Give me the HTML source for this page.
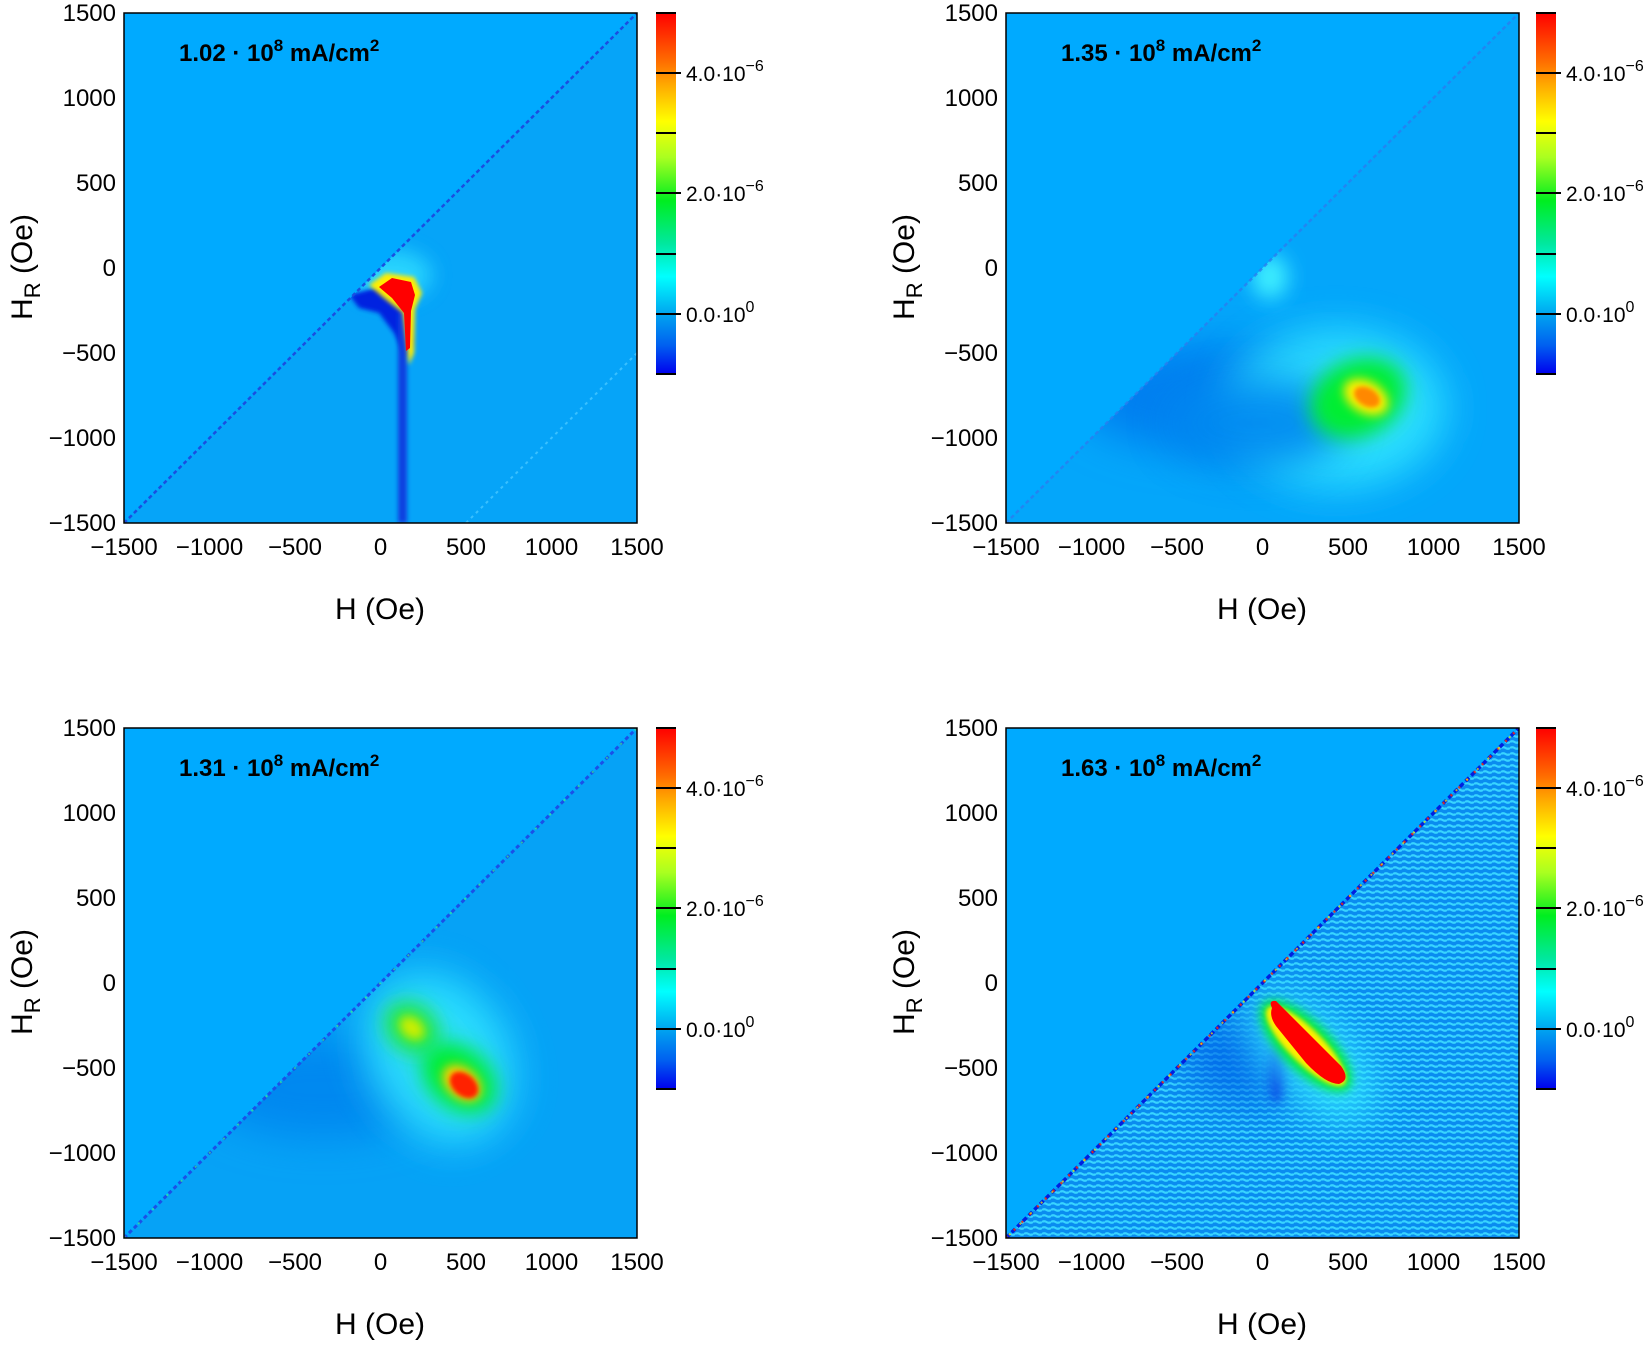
<!DOCTYPE html>
<html><head><meta charset="utf-8"><style>
html,body{margin:0;padding:0;background:#fff;}
svg{display:block;}
text{font-family:"Liberation Sans",Arial,sans-serif;fill:#000;}
.tk{font-size:24px;}
.al{font-size:30px;}
.cb{font-size:21px;}
.tt{font-size:24px;font-weight:bold;}
</style></head><body>
<svg width="1650" height="1345" viewBox="0 0 1650 1345" xmlns="http://www.w3.org/2000/svg">
<defs>
<linearGradient id="cg" x1="0" y1="0" x2="0" y2="1">
<stop offset="0" stop-color="#ff0000"/><stop offset="0.13" stop-color="#ff6a00"/>
<stop offset="0.2" stop-color="#ffaa00"/><stop offset="0.3" stop-color="#ffff00"/>
<stop offset="0.4" stop-color="#aaff20"/><stop offset="0.52" stop-color="#00ee20"/>
<stop offset="0.64" stop-color="#00e8a0"/><stop offset="0.73" stop-color="#00ffff"/>
<stop offset="0.83" stop-color="#00a8f0"/><stop offset="0.92" stop-color="#0060f0"/>
<stop offset="1" stop-color="#0000ee"/></linearGradient>
<clipPath id="pc"><rect x="0" y="0" width="513" height="510"/></clipPath>
<clipPath id="lt"><polygon points="0,510 513,0 513,510"/></clipPath>
<filter id="b2" x="-50%" y="-50%" width="200%" height="200%"><feGaussianBlur stdDeviation="2"/></filter>
<filter id="b5" x="-50%" y="-50%" width="200%" height="200%"><feGaussianBlur stdDeviation="5"/></filter>
<filter id="b10" x="-50%" y="-50%" width="200%" height="200%"><feGaussianBlur stdDeviation="10"/></filter>
<filter id="b20" x="-50%" y="-50%" width="200%" height="200%"><feGaussianBlur stdDeviation="20"/></filter>
<pattern id="st" width="9" height="6" patternUnits="userSpaceOnUse">
<rect width="9" height="6" fill="#0a8cf0"/><path d="M0,2 Q2.25,0.5 4.5,2 T9,2" stroke="#38d4ff" stroke-width="2.2" fill="none"/></pattern>
</defs>

<!-- ============ PANEL TL ============ -->
<g transform="translate(124,13)">
<g clip-path="url(#pc)">
<rect width="513" height="510" fill="#00aaff"/>
<polygon points="0,510 513,0 513,510" fill="#06a4f8"/>
<line x1="342" y1="510" x2="513" y2="340" stroke="#3ac0ff" stroke-width="2" stroke-dasharray="3 4"/>
<g clip-path="url(#lt)">
<ellipse cx="268" cy="262" rx="40" ry="25" fill="#30e0ff" opacity="0.8" filter="url(#b10)"/>
<path d="M225,282 L262,272 L284,292 L288,330 L282,345 L270,320 L255,300 L235,295 Z" fill="#0020e0" filter="url(#b2)"/>
<rect x="274" y="300" width="9" height="210" fill="#1040e0" filter="url(#b2)"/>
<path d="M245,272 L262,260 L290,264 L298,280 L291,296 L290,340 L285,352 L279,300 L260,285 Z" fill="#ffee00" filter="url(#b2)"/>
<path d="M255,274 L268,265 L287,269 L291,282 L287,298 L286,335 L282,338 L280,300 L268,285 Z" fill="#ff0000"/>
</g>
<line x1="0" y1="510" x2="513" y2="0" stroke="#1a4ee0" stroke-width="2.5" stroke-dasharray="4 3"/>
</g>
<rect width="513" height="510" fill="none" stroke="#000" stroke-width="1.5"/>
<text class="tt" x="55" y="48">1.02 · 10<tspan dy="-10" font-size="17">8</tspan><tspan dy="10"> mA/cm</tspan><tspan dy="-10" font-size="17">2</tspan></text>
</g>

<!-- ============ PANEL TR ============ -->
<g transform="translate(1006,13)">
<g clip-path="url(#pc)">
<rect width="513" height="510" fill="#00aaff"/>
<g clip-path="url(#lt)">
<rect width="513" height="510" fill="#04a6fa"/>
<ellipse cx="220" cy="385" rx="150" ry="55" fill="#0080f0" filter="url(#b20)"/>
<ellipse cx="330" cy="395" rx="110" ry="80" fill="#30e8ff" opacity="0.85" filter="url(#b20)"/>
<ellipse cx="264" cy="264" rx="18" ry="22" fill="#40f0ff" filter="url(#b10)"/>
<ellipse cx="250" cy="410" rx="90" ry="45" fill="#0088f0" opacity="0.9" filter="url(#b20)"/>
<ellipse cx="352" cy="385" rx="50" ry="38" transform="rotate(-25 352 385)" fill="#00ee30" filter="url(#b10)"/>
<ellipse cx="360" cy="384" rx="24" ry="16" transform="rotate(30 360 384)" fill="#ffee00" filter="url(#b5)"/>
<ellipse cx="361" cy="384" rx="14" ry="9" transform="rotate(30 361 384)" fill="#ff8800" filter="url(#b2)"/>
</g>
<line x1="0" y1="510" x2="513" y2="0" stroke="#2a7ef0" stroke-width="2.5" stroke-dasharray="4 3" opacity="0.8"/>
</g>
<rect width="513" height="510" fill="none" stroke="#000" stroke-width="1.5"/>
<text class="tt" x="55" y="48">1.35 · 10<tspan dy="-10" font-size="17">8</tspan><tspan dy="10"> mA/cm</tspan><tspan dy="-10" font-size="17">2</tspan></text>
</g>

<!-- ============ PANEL BL ============ -->
<g transform="translate(124,728)">
<g clip-path="url(#pc)">
<rect width="513" height="510" fill="#00aaff"/>
<g clip-path="url(#lt)">
<rect width="513" height="510" fill="#06a2f6"/>
<ellipse cx="200" cy="360" rx="120" ry="50" fill="#0088f0" filter="url(#b20)"/>
<ellipse cx="315" cy="330" rx="70" ry="90" transform="rotate(-30 315 330)" fill="#30e8ff" opacity="0.85" filter="url(#b20)"/>
<ellipse cx="288" cy="300" rx="30" ry="24" transform="rotate(40 288 300)" fill="#20e840" filter="url(#b10)"/>
<ellipse cx="335" cy="350" rx="42" ry="30" transform="rotate(40 335 350)" fill="#00ee30" filter="url(#b10)"/>
<ellipse cx="288" cy="300" rx="14" ry="10" transform="rotate(40 288 300)" fill="#ccee00" filter="url(#b5)"/>
<ellipse cx="338" cy="355" rx="22" ry="15" transform="rotate(40 338 355)" fill="#ffcc00" filter="url(#b5)"/>
<ellipse cx="340" cy="357" rx="16" ry="11" transform="rotate(40 340 357)" fill="#ff2200" filter="url(#b2)"/>
</g>
<line x1="0" y1="510" x2="513" y2="0" stroke="#1a50e8" stroke-width="3" stroke-dasharray="4 3"/>
<line x1="0" y1="510" x2="513" y2="0" stroke="#40ff80" stroke-width="2" stroke-dasharray="2 18" opacity="0.6"/>
</g>
<rect width="513" height="510" fill="none" stroke="#000" stroke-width="1.5"/>
<text class="tt" x="55" y="48">1.31 · 10<tspan dy="-10" font-size="17">8</tspan><tspan dy="10"> mA/cm</tspan><tspan dy="-10" font-size="17">2</tspan></text>
</g>

<!-- ============ PANEL BR ============ -->
<g transform="translate(1006,728)">
<g clip-path="url(#pc)">
<rect width="513" height="510" fill="#00aaff"/>
<g clip-path="url(#lt)">
<rect width="513" height="510" fill="url(#st)"/>
<ellipse cx="250" cy="330" rx="70" ry="45" fill="#0060e8" opacity="0.7" filter="url(#b20)"/>
<ellipse cx="271" cy="345" rx="8" ry="30" fill="#0020e0" filter="url(#b5)"/>
<ellipse cx="305" cy="330" rx="80" ry="40" transform="rotate(45 305 330)" fill="#30e8ff" opacity="0.85" filter="url(#b20)"/>
<ellipse cx="300" cy="318" rx="60" ry="24" transform="rotate(45 300 318)" fill="#00ee30" filter="url(#b5)"/>
<ellipse cx="300" cy="318" rx="54" ry="17" transform="rotate(45 300 318)" fill="#ffee00" filter="url(#b2)"/>
<path d="M266,280 Q262,272 270,273 L335,338 Q345,352 333,356 Q320,356 300,335 L270,298 Q263,288 266,280 Z" fill="#ff0000"/>
</g>
<line x1="0" y1="510" x2="513" y2="0" stroke="#0020e0" stroke-width="3.5" stroke-dasharray="5 3"/>
<line x1="0" y1="510" x2="513" y2="0" stroke="#ff3000" stroke-width="2.5" stroke-dasharray="2 9" opacity="0.8"/>
<line x1="3" y1="507" x2="513" y2="0" stroke="#ffee00" stroke-width="2" stroke-dasharray="2 13" opacity="0.7"/>
</g>
<rect width="513" height="510" fill="none" stroke="#000" stroke-width="1.5"/>
<text class="tt" x="55" y="48">1.63 · 10<tspan dy="-10" font-size="17">8</tspan><tspan dy="10"> mA/cm</tspan><tspan dy="-10" font-size="17">2</tspan></text>
</g>

<!-- ============ AXES LABELS & COLORBARS ============ -->
<!-- TL -->
<g transform="translate(124,13)">
<g class="tk" text-anchor="end">
<text x="-8" y="8">1500</text><text x="-8" y="93">1000</text><text x="-8" y="178">500</text><text x="-8" y="263">0</text><text x="-8" y="348">−500</text><text x="-8" y="433">−1000</text><text x="-8" y="518">−1500</text></g>
<g class="tk" text-anchor="middle">
<text x="0" y="542">−1500</text><text x="85.5" y="542">−1000</text><text x="171" y="542">−500</text><text x="256.5" y="542">0</text><text x="342" y="542">500</text><text x="427.5" y="542">1000</text><text x="513" y="542">1500</text></g>
<text class="al" x="256" y="606" text-anchor="middle">H (Oe)</text>
<text class="al" transform="translate(-92,254) rotate(-90)" text-anchor="middle">H<tspan dy="8" font-size="22">R</tspan><tspan dy="-8"> (Oe)</tspan></text>
<g transform="translate(532,0)">
<rect width="20" height="361" fill="url(#cg)"/>
<g stroke="#000" stroke-width="2"><line x1="0" y1="0" x2="20" y2="0"/><line x1="0" y1="60" x2="25" y2="60"/><line x1="0" y1="120" x2="20" y2="120"/><line x1="0" y1="180" x2="25" y2="180"/><line x1="0" y1="241" x2="20" y2="241"/><line x1="0" y1="301" x2="25" y2="301"/><line x1="0" y1="361" x2="20" y2="361"/></g>
<g class="cb"><text x="30" y="68">4.0·10<tspan dy="-10" font-size="16">−6</tspan></text><text x="30" y="188">2.0·10<tspan dy="-10" font-size="16">−6</tspan></text><text x="30" y="309">0.0·10<tspan dy="-10" font-size="16">0</tspan></text></g>
</g>
</g>
<!-- TR -->
<g transform="translate(1006,13)">
<g class="tk" text-anchor="end">
<text x="-8" y="8">1500</text><text x="-8" y="93">1000</text><text x="-8" y="178">500</text><text x="-8" y="263">0</text><text x="-8" y="348">−500</text><text x="-8" y="433">−1000</text><text x="-8" y="518">−1500</text></g>
<g class="tk" text-anchor="middle">
<text x="0" y="542">−1500</text><text x="85.5" y="542">−1000</text><text x="171" y="542">−500</text><text x="256.5" y="542">0</text><text x="342" y="542">500</text><text x="427.5" y="542">1000</text><text x="513" y="542">1500</text></g>
<text class="al" x="256" y="606" text-anchor="middle">H (Oe)</text>
<text class="al" transform="translate(-92,254) rotate(-90)" text-anchor="middle">H<tspan dy="8" font-size="22">R</tspan><tspan dy="-8"> (Oe)</tspan></text>
<g transform="translate(530,0)">
<rect width="20" height="361" fill="url(#cg)"/>
<g stroke="#000" stroke-width="2"><line x1="0" y1="0" x2="20" y2="0"/><line x1="0" y1="60" x2="25" y2="60"/><line x1="0" y1="120" x2="20" y2="120"/><line x1="0" y1="180" x2="25" y2="180"/><line x1="0" y1="241" x2="20" y2="241"/><line x1="0" y1="301" x2="25" y2="301"/><line x1="0" y1="361" x2="20" y2="361"/></g>
<g class="cb"><text x="30" y="68">4.0·10<tspan dy="-10" font-size="16">−6</tspan></text><text x="30" y="188">2.0·10<tspan dy="-10" font-size="16">−6</tspan></text><text x="30" y="309">0.0·10<tspan dy="-10" font-size="16">0</tspan></text></g>
</g>
</g>
<!-- BL -->
<g transform="translate(124,728)">
<g class="tk" text-anchor="end">
<text x="-8" y="8">1500</text><text x="-8" y="93">1000</text><text x="-8" y="178">500</text><text x="-8" y="263">0</text><text x="-8" y="348">−500</text><text x="-8" y="433">−1000</text><text x="-8" y="518">−1500</text></g>
<g class="tk" text-anchor="middle">
<text x="0" y="542">−1500</text><text x="85.5" y="542">−1000</text><text x="171" y="542">−500</text><text x="256.5" y="542">0</text><text x="342" y="542">500</text><text x="427.5" y="542">1000</text><text x="513" y="542">1500</text></g>
<text class="al" x="256" y="606" text-anchor="middle">H (Oe)</text>
<text class="al" transform="translate(-92,254) rotate(-90)" text-anchor="middle">H<tspan dy="8" font-size="22">R</tspan><tspan dy="-8"> (Oe)</tspan></text>
<g transform="translate(532,0)">
<rect width="20" height="361" fill="url(#cg)"/>
<g stroke="#000" stroke-width="2"><line x1="0" y1="0" x2="20" y2="0"/><line x1="0" y1="60" x2="25" y2="60"/><line x1="0" y1="120" x2="20" y2="120"/><line x1="0" y1="180" x2="25" y2="180"/><line x1="0" y1="241" x2="20" y2="241"/><line x1="0" y1="301" x2="25" y2="301"/><line x1="0" y1="361" x2="20" y2="361"/></g>
<g class="cb"><text x="30" y="68">4.0·10<tspan dy="-10" font-size="16">−6</tspan></text><text x="30" y="188">2.0·10<tspan dy="-10" font-size="16">−6</tspan></text><text x="30" y="309">0.0·10<tspan dy="-10" font-size="16">0</tspan></text></g>
</g>
</g>
<!-- BR -->
<g transform="translate(1006,728)">
<g class="tk" text-anchor="end">
<text x="-8" y="8">1500</text><text x="-8" y="93">1000</text><text x="-8" y="178">500</text><text x="-8" y="263">0</text><text x="-8" y="348">−500</text><text x="-8" y="433">−1000</text><text x="-8" y="518">−1500</text></g>
<g class="tk" text-anchor="middle">
<text x="0" y="542">−1500</text><text x="85.5" y="542">−1000</text><text x="171" y="542">−500</text><text x="256.5" y="542">0</text><text x="342" y="542">500</text><text x="427.5" y="542">1000</text><text x="513" y="542">1500</text></g>
<text class="al" x="256" y="606" text-anchor="middle">H (Oe)</text>
<text class="al" transform="translate(-92,254) rotate(-90)" text-anchor="middle">H<tspan dy="8" font-size="22">R</tspan><tspan dy="-8"> (Oe)</tspan></text>
<g transform="translate(530,0)">
<rect width="20" height="361" fill="url(#cg)"/>
<g stroke="#000" stroke-width="2"><line x1="0" y1="0" x2="20" y2="0"/><line x1="0" y1="60" x2="25" y2="60"/><line x1="0" y1="120" x2="20" y2="120"/><line x1="0" y1="180" x2="25" y2="180"/><line x1="0" y1="241" x2="20" y2="241"/><line x1="0" y1="301" x2="25" y2="301"/><line x1="0" y1="361" x2="20" y2="361"/></g>
<g class="cb"><text x="30" y="68">4.0·10<tspan dy="-10" font-size="16">−6</tspan></text><text x="30" y="188">2.0·10<tspan dy="-10" font-size="16">−6</tspan></text><text x="30" y="309">0.0·10<tspan dy="-10" font-size="16">0</tspan></text></g>
</g>
</g>
</svg>
</body></html>
